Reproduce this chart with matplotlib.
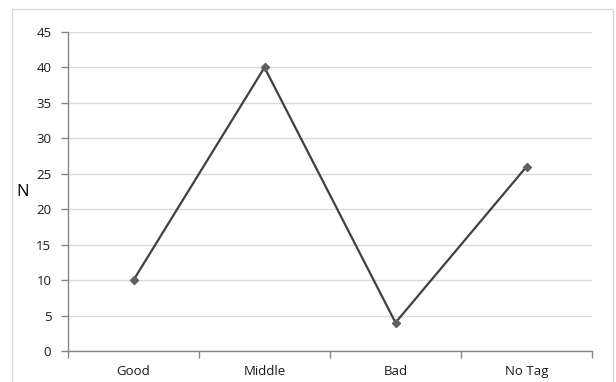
import matplotlib.pyplot as plt
from matplotlib.patches import Rectangle
import numpy as np

categories = ["Good", "Middle", "Bad", "No Tag"]
counts = [10, 40, 4, 26]
y_ticks = [0, 5, 10, 15, 20, 25, 30, 35, 40, 45]

plt.rcParams['font.family'] = ['Open Sans', 'DejaVu Sans']

W, H = 616, 382
fig = plt.figure(figsize=(W / 100, H / 100), dpi=100)

# chart-area frame
fig.patches.append(Rectangle((12 / W, -0.05), (613 - 12) / W, 1.05 - 9 / H,
                             transform=fig.transFigure, fill=False,
                             edgecolor='#d9d9d9', linewidth=1.0))

ax = fig.add_axes([68 / W, 31 / H, (592 - 68) / W, (351 - 32) / H])

x = np.arange(len(categories))
ax.plot(x, counts, color='#404040', linewidth=1.6, marker='D',
        markersize=4.5, markerfacecolor='#606060', markeredgecolor='#606060',
        zorder=3)

ax.set_xlim(-0.5, len(categories) - 0.5)
ax.set_ylim(0, 45)
ax.set_yticks(y_ticks)
ax.set_xticks(x)
ax.set_xticklabels(categories)
ax.set_xticks(np.arange(-0.5, len(categories)), minor=True)
ax.tick_params(axis='x', which='major', length=0, pad=10)
ax.tick_params(axis='x', which='minor', length=5, color='#868686', width=1)
ax.tick_params(axis='y', length=5, color='#868686', width=1, pad=7)
ax.tick_params(labelsize=9.5, labelcolor='#1a1a1a')

ax.grid(axis='y', color='#d9d9d9', linewidth=1.0)
ax.set_axisbelow(True)
for side in ['top', 'right']:
    ax.spines[side].set_visible(False)
for side in ['left', 'bottom']:
    ax.spines[side].set_color('#868686')
    ax.spines[side].set_linewidth(1.0)

ax.set_ylabel("N", rotation=0, fontsize=12, labelpad=10, va='center')

fig.savefig("out.png", dpi=100)
